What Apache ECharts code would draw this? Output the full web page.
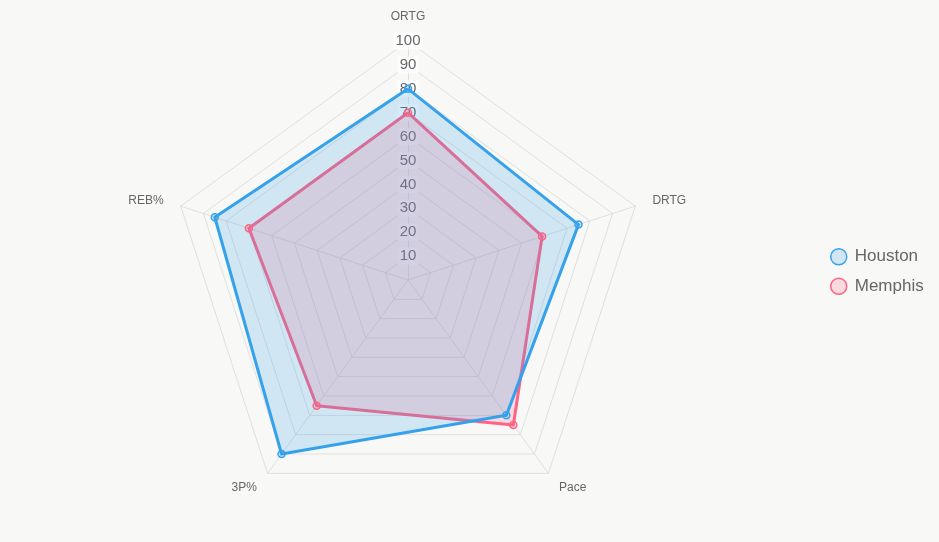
<!DOCTYPE html>
<html>
<head>
<meta charset="utf-8">
<script src="https://cdn.jsdelivr.net/npm/echarts@6/dist/echarts.min.js"></script>
<style>
  html, body { margin: 0; padding: 0; background: #f8f8f6; }
  #chart { width: 939px; height: 542px; }
</style>
</head>
<body>
<div id="chart"></div>
<script>
// clockwise order as in the picture, starting at the top
const indicators = ["ORTG", "DRTG", "Pace", "3P%", "REB%"];
const houston = [80, 75, 70, 90, 85];
const memphis = [70, 59, 75, 65, 70];
const teamNames = ["Houston", "Memphis"];

const BLUE = "rgb(54,162,235)";
const BLUE_FILL = "rgba(54,162,235,0.2)";
const PINK = "rgb(255,99,132)";
const PINK_FILL = "rgba(255,99,132,0.2)";
const FONT = "Helvetica, Arial, sans-serif";

// echarts radar runs counter-clockwise, so flip the order after the first axis
const order = [0, 4, 3, 2, 1];
const pick = arr => order.map(i => arr[i]);

const chart = echarts.init(document.getElementById("chart"));

chart.setOption({
  backgroundColor: "#f8f8f6",
  animation: false,
  legend: {
    orient: "vertical",
    left: 825,
    top: 243,
    itemWidth: 16,
    itemHeight: 16,
    itemGap: 12,
    icon: "circle",
    textStyle: { color: "#666", fontSize: 17, fontFamily: FONT, padding: [0, 0, 0, 3] },
    data: [
      { name: teamNames[0], itemStyle: { color: BLUE_FILL, borderColor: BLUE, borderWidth: 1.5 } },
      { name: teamNames[1], itemStyle: { color: PINK_FILL, borderColor: PINK, borderWidth: 1.5 } },
    ],
  },
  radar: {
    center: [408, 280],
    radius: 239,
    startAngle: 90,
    shape: "polygon",
    splitNumber: 10,
    nameGap: 18,
    axisName: { color: "#666", fontSize: 12, fontFamily: FONT },
    axisLine: { lineStyle: { color: "#e0e0e0", width: 1 } },
    splitLine: { lineStyle: { color: "#e0e0e0", width: 1 } },
    splitArea: { show: false },
    axisTick: { show: false },
    axisLabel: { show: false },
    indicator: pick(indicators).map((name, i) => ({
      name,
      min: 0,
      max: 100,
      axisLabel: i === 0 ? {
        show: true,
        showMinLabel: false,
        color: "#666",
        fontSize: 15,
        fontFamily: FONT,
        margin: 0,
        align: "center",
        verticalAlign: "middle",
        backgroundColor: "rgba(255,255,255,0.75)",
        padding: [1, 2],
        formatter: v => (v === 0 ? "" : v),
      } : { show: false },
    })),
  },
  series: [{
    type: "radar",
    symbol: "circle",
    symbolSize: 7,
    data: [
      {
        name: teamNames[1],
        value: pick(memphis),
        lineStyle: { color: PINK, width: 3 },
        areaStyle: { color: PINK_FILL, opacity: 1 },
        itemStyle: { color: PINK_FILL, borderColor: PINK, borderWidth: 1.5 },
      },
      {
        name: teamNames[0],
        value: pick(houston),
        lineStyle: { color: BLUE, width: 3 },
        areaStyle: { color: BLUE_FILL, opacity: 1 },
        itemStyle: { color: BLUE_FILL, borderColor: BLUE, borderWidth: 1.5 },
      },
    ],
  }],
});
</script>
</body>
</html>
